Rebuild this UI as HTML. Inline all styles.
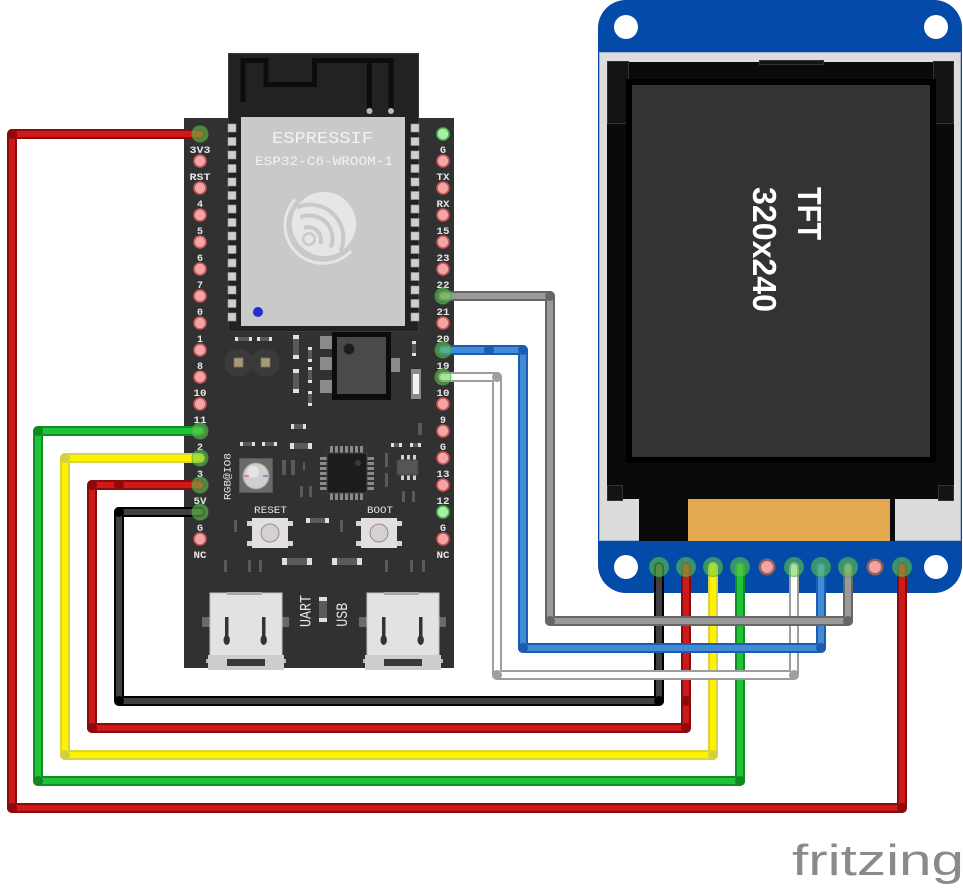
<!DOCTYPE html>
<html><head><meta charset="utf-8">
<style>html,body{margin:0;padding:0;background:#fff}svg{display:block}</style>
</head>
<body>
<svg xmlns="http://www.w3.org/2000/svg" width="963" height="890" viewBox="0 0 963 890">
<rect width="963" height="890" fill="#fff"/>

<!-- ================= TFT ================= -->
<rect x="598" y="0" width="364" height="593" rx="28" fill="#044aa9"/>
<circle cx="626" cy="27" r="12" fill="#fff"/>
<circle cx="936" cy="27" r="12" fill="#fff"/>
<circle cx="626" cy="567" r="12" fill="#fff"/>
<circle cx="936" cy="567" r="12" fill="#fff"/>
<rect x="599.5" y="52.5" width="361" height="488" fill="#dcdcdc" stroke="#9fb3d1" stroke-width="1"/>
<rect x="607" y="62" width="347" height="437" fill="#0a0a0a"/>
<rect x="607.5" y="61.5" width="21" height="62" fill="#141414" stroke="#333" stroke-width="1"/>
<rect x="933.5" y="61.5" width="20" height="62" fill="#141414" stroke="#333" stroke-width="1"/>
<rect x="759.5" y="60.5" width="64" height="4" fill="#141414" stroke="#333" stroke-width="1"/>
<rect x="607.5" y="485.5" width="15" height="15" fill="#141414" stroke="#333" stroke-width="1"/>
<rect x="938.5" y="485.5" width="15" height="15" fill="#141414" stroke="#333" stroke-width="1"/>
<rect x="626" y="79" width="310" height="384" fill="#000"/>
<rect x="632" y="85" width="298" height="372" fill="#333333"/>
<rect x="639" y="499" width="49" height="42" fill="#0a0a0a"/>
<rect x="688" y="499" width="202" height="42" fill="#e3a94f"/>
<rect x="890" y="499" width="5" height="42" fill="#0a0a0a"/>
<text transform="translate(798,213.5) rotate(90)" text-anchor="middle" font-family="Liberation Sans, sans-serif" font-weight="bold" font-size="33" fill="#fff" textLength="53" lengthAdjust="spacingAndGlyphs">TFT</text>
<text transform="translate(753,249.5) rotate(90)" text-anchor="middle" font-family="Liberation Sans, sans-serif" font-weight="bold" font-size="33" fill="#fff" textLength="125" lengthAdjust="spacingAndGlyphs">320x240</text>
<!-- TFT unconnected pins -->
<circle cx="767" cy="567" r="8.5" fill="#8d6262"/><circle cx="767" cy="567" r="6" fill="#f4a2a2"/>
<circle cx="875" cy="567" r="8.5" fill="#8d6262"/><circle cx="875" cy="567" r="6" fill="#f4a2a2"/>

<!-- ================= ESP32 board ================= -->
<rect x="184" y="118" width="270" height="550" fill="#313131"/>
<!-- module -->
<rect x="228.5" y="53.5" width="190" height="278" fill="#222" stroke="#3a3a3a" stroke-width="1"/>
<path d="M243,102 V60.5 H266 V84.5 H314.5 V60.5 H391 V110 M369.5,60.5 V110" fill="none" stroke="#0c0c0c" stroke-width="5"/>
<circle cx="369.5" cy="111" r="3" fill="#bbb"/>
<circle cx="391" cy="111" r="3" fill="#bbb"/>
<rect x="241" y="117" width="164" height="209" fill="#c9c9c9"/>
<g fill="#cfcfcf" stroke="#9a9a9a" stroke-width="0.6">
<rect x="228" y="124" width="8" height="8"/><rect x="228" y="137.5" width="8" height="8"/><rect x="228" y="151" width="8" height="8"/><rect x="228" y="164.5" width="8" height="8"/><rect x="228" y="178" width="8" height="8"/><rect x="228" y="191.5" width="8" height="8"/><rect x="228" y="205" width="8" height="8"/><rect x="228" y="218.5" width="8" height="8"/><rect x="228" y="232" width="8" height="8"/><rect x="228" y="245.5" width="8" height="8"/><rect x="228" y="259" width="8" height="8"/><rect x="228" y="272.5" width="8" height="8"/><rect x="228" y="286" width="8" height="8"/><rect x="228" y="299.5" width="8" height="8"/><rect x="228" y="313" width="8" height="8"/>
<rect x="411" y="124" width="8" height="8"/><rect x="411" y="137.5" width="8" height="8"/><rect x="411" y="151" width="8" height="8"/><rect x="411" y="164.5" width="8" height="8"/><rect x="411" y="178" width="8" height="8"/><rect x="411" y="191.5" width="8" height="8"/><rect x="411" y="205" width="8" height="8"/><rect x="411" y="218.5" width="8" height="8"/><rect x="411" y="232" width="8" height="8"/><rect x="411" y="245.5" width="8" height="8"/><rect x="411" y="259" width="8" height="8"/><rect x="411" y="272.5" width="8" height="8"/><rect x="411" y="286" width="8" height="8"/><rect x="411" y="299.5" width="8" height="8"/><rect x="411" y="313" width="8" height="8"/>
</g>
<text x="322.5" y="143" text-anchor="middle" font-family="Liberation Mono, monospace" font-size="17" fill="#f2f2f2" textLength="101" lengthAdjust="spacingAndGlyphs">ESPRESSIF</text>
<text x="324" y="165" text-anchor="middle" font-family="Liberation Mono, monospace" font-size="13" fill="#f2f2f2" textLength="138" lengthAdjust="spacingAndGlyphs">ESP32-C6-WROOM-1</text>
<!-- espressif logo -->
<g transform="translate(324,224)">
  <circle r="32" fill="#e6e6e6"/>
  <g fill="none" stroke="#c9c9c9" stroke-width="4">
    <path d="M-20.1,3.7 A13,13 0 0 1 -3.7,20.1"/>
    <path d="M-23.5,-6.7 A23,23 0 0 1 6.7,23.5"/>
    <path d="M-27,-16.5 A33,33 0 0 1 16.5,27"/>
  </g>
  <circle cx="-15" cy="15" r="7" fill="#c9c9c9"/>
  <circle cx="-15" cy="15" r="4.5" fill="#e6e6e6"/>
  <path d="M27,27 A38,38 0 0 1 -29,-24.5" fill="none" stroke="#e6e6e6" stroke-width="3"/>
</g>
<circle cx="258" cy="312" r="5" fill="#1f2fd0"/>

<!-- LED pads -->
<polygon points="232,349 245,349 252,356 252,369 245,376 232,376 225,369 225,356" fill="#3a3a3a"/>
<polygon points="259,349 272,349 279,356 279,369 272,376 259,376 252,369 252,356" fill="#3a3a3a"/>
<rect x="234" y="358" width="9" height="9" fill="#a79a78" stroke="#7a705a" stroke-width="0.8"/>
<rect x="261" y="358" width="9" height="9" fill="#a79a78" stroke="#7a705a" stroke-width="0.8"/>

<!-- regulator -->
<rect x="320" y="336" width="12" height="13" fill="#8a8a8a"/>
<rect x="320" y="357" width="12" height="13" fill="#8a8a8a"/>
<rect x="320" y="380" width="12" height="13" fill="#8a8a8a"/>
<rect x="391" y="358" width="9" height="14" fill="#8a8a8a"/>
<rect x="332" y="332" width="59" height="68" fill="#0c0c0c"/>
<rect x="337" y="337" width="49" height="57" fill="#4a4a4a"/>
<circle cx="349" cy="349" r="5.5" fill="#1e1e1e"/>
<rect x="411" y="369" width="10" height="30" fill="#888"/>
<rect x="413" y="374" width="6" height="20" fill="#f2f2f2"/>

<!-- small SMD parts: horizontal -->
<g fill="#5a5a5a">
<rect x="235" y="337" width="17" height="4"/><rect x="257" y="337" width="15" height="4"/>
<rect x="291" y="424" width="15" height="5"/>
<rect x="240" y="442" width="15" height="4"/><rect x="262" y="442" width="15" height="4"/>
<rect x="290" y="443" width="22" height="6"/>
<rect x="391" y="443" width="11" height="4"/><rect x="410" y="443" width="11" height="4"/>
<rect x="306" y="518" width="23" height="5"/>
<rect x="282" y="558" width="30" height="7"/><rect x="332" y="558" width="30" height="7"/>
</g>
<g fill="#e0e0e0">
<rect x="235" y="337" width="3" height="4"/><rect x="249" y="337" width="3" height="4"/>
<rect x="257" y="337" width="3" height="4"/><rect x="269" y="337" width="3" height="4"/>
<rect x="291" y="424" width="3" height="5"/><rect x="303" y="424" width="3" height="5"/>
<rect x="240" y="442" width="3" height="4"/><rect x="252" y="442" width="3" height="4"/>
<rect x="262" y="442" width="3" height="4"/><rect x="274" y="442" width="3" height="4"/>
<rect x="290" y="443" width="4" height="6"/><rect x="308" y="443" width="4" height="6"/>
<rect x="391" y="443" width="3" height="4"/><rect x="399" y="443" width="3" height="4"/>
<rect x="410" y="443" width="3" height="4"/><rect x="418" y="443" width="3" height="4"/>
<rect x="306" y="518" width="4" height="5"/><rect x="325" y="518" width="4" height="5"/>
<rect x="282" y="558" width="5" height="7"/><rect x="307" y="558" width="5" height="7"/>
<rect x="332" y="558" width="5" height="7"/><rect x="357" y="558" width="5" height="7"/>
</g>
<!-- vertical -->
<g fill="#5a5a5a">
<rect x="293" y="335" width="6" height="24"/><rect x="293" y="369" width="6" height="24"/>
<rect x="308" y="347" width="4" height="15"/><rect x="308" y="367" width="4" height="16"/><rect x="308" y="391" width="4" height="15"/>
<rect x="412" y="341" width="4" height="15"/>
<rect x="418" y="423" width="4" height="12"/>
<rect x="282" y="460" width="4" height="15"/><rect x="291" y="460" width="4" height="15"/>
<rect x="303" y="462" width="2" height="8"/>
<rect x="300" y="486" width="3" height="11"/><rect x="309" y="486" width="3" height="11"/>
<rect x="385" y="453" width="3" height="14"/><rect x="385" y="473" width="3" height="14"/>
<rect x="402" y="491" width="3" height="11"/><rect x="412" y="491" width="3" height="11"/>
<rect x="234" y="520" width="3" height="12"/><rect x="340" y="520" width="3" height="12"/>
<rect x="224" y="560" width="3" height="12"/><rect x="248" y="560" width="3" height="12"/><rect x="259" y="560" width="3" height="12"/>
<rect x="385" y="560" width="3" height="12"/><rect x="410" y="560" width="3" height="12"/><rect x="422" y="560" width="3" height="12"/>
<rect x="319" y="597" width="8" height="25"/>
</g>
<g fill="#e0e0e0">
<rect x="293" y="335" width="6" height="4"/><rect x="293" y="355" width="6" height="4"/>
<rect x="293" y="369" width="6" height="4"/><rect x="293" y="389" width="6" height="4"/>
<rect x="308" y="347" width="4" height="3"/><rect x="308" y="359" width="4" height="3"/>
<rect x="308" y="367" width="4" height="3"/><rect x="308" y="380" width="4" height="3"/>
<rect x="308" y="391" width="4" height="3"/><rect x="308" y="403" width="4" height="3"/>
<rect x="412" y="341" width="4" height="3"/><rect x="412" y="353" width="4" height="3"/>
<rect x="319" y="597" width="8" height="4"/><rect x="319" y="618" width="8" height="4"/>
</g>

<!-- RGB LED -->
<rect x="239.5" y="458.5" width="33" height="34" fill="#6a6a6a" stroke="#575757"/>
<circle cx="256" cy="476" r="13" fill="#cfcfcf" stroke="#9a9a9a" stroke-width="1"/>
<circle cx="253" cy="472" r="6" fill="#e4e4e4"/>
<line x1="244" y1="476" x2="249" y2="476" stroke="#d04040" stroke-width="1"/>
<line x1="263" y1="476" x2="268" y2="476" stroke="#3050d0" stroke-width="1"/>
<text transform="translate(230.5,476.5) rotate(-90)" text-anchor="middle" font-family="Liberation Mono, monospace" font-size="10" fill="#e6e6e6" textLength="47" lengthAdjust="spacingAndGlyphs">RGB@IO8</text>

<!-- QFN chip -->
<g fill="#8a8a8a">
<rect x="330" y="446" width="3" height="7"/><rect x="335" y="446" width="3" height="7"/><rect x="340" y="446" width="3" height="7"/><rect x="345" y="446" width="3" height="7"/><rect x="350" y="446" width="3" height="7"/><rect x="355" y="446" width="3" height="7"/><rect x="360" y="446" width="3" height="7"/>
<rect x="330" y="493" width="3" height="7"/><rect x="335" y="493" width="3" height="7"/><rect x="340" y="493" width="3" height="7"/><rect x="345" y="493" width="3" height="7"/><rect x="350" y="493" width="3" height="7"/><rect x="355" y="493" width="3" height="7"/><rect x="360" y="493" width="3" height="7"/>
<rect x="320" y="457" width="7" height="3"/><rect x="320" y="462" width="7" height="3"/><rect x="320" y="467" width="7" height="3"/><rect x="320" y="472" width="7" height="3"/><rect x="320" y="477" width="7" height="3"/><rect x="320" y="482" width="7" height="3"/><rect x="320" y="487" width="7" height="3"/>
<rect x="367" y="457" width="7" height="3"/><rect x="367" y="462" width="7" height="3"/><rect x="367" y="467" width="7" height="3"/><rect x="367" y="472" width="7" height="3"/><rect x="367" y="477" width="7" height="3"/><rect x="367" y="482" width="7" height="3"/><rect x="367" y="487" width="7" height="3"/>
</g>
<rect x="327" y="453" width="40" height="40" fill="#1c1c1c" stroke="#444" stroke-width="1"/>
<circle cx="358" cy="463" r="3" fill="#3a3a3a"/>

<!-- SOT chip -->
<g fill="#cfcfcf">
<rect x="401" y="455" width="3" height="5"/><rect x="407" y="455" width="3" height="5"/><rect x="413" y="455" width="3" height="5"/>
<rect x="401" y="475" width="3" height="5"/><rect x="407" y="475" width="3" height="5"/><rect x="413" y="475" width="3" height="5"/>
</g>
<rect x="397" y="460" width="21" height="15" fill="#555" stroke="#444"/>

<!-- buttons -->
<text x="270.5" y="513" text-anchor="middle" font-family="Liberation Mono, monospace" font-size="10" fill="#e6e6e6" textLength="33" lengthAdjust="spacingAndGlyphs">RESET</text>
<text x="380" y="513" text-anchor="middle" font-family="Liberation Mono, monospace" font-size="10" fill="#e6e6e6" textLength="26" lengthAdjust="spacingAndGlyphs">BOOT</text>
<g fill="#d6d6d6">
<rect x="247" y="521" width="6" height="5"/><rect x="287" y="521" width="6" height="5"/><rect x="247" y="541" width="6" height="5"/><rect x="287" y="541" width="6" height="5"/>
<rect x="356" y="521" width="6" height="5"/><rect x="396" y="521" width="6" height="5"/><rect x="356" y="541" width="6" height="5"/><rect x="396" y="541" width="6" height="5"/>
</g>
<rect x="252" y="518" width="36" height="30" fill="#e0e0e0"/>
<rect x="361" y="518" width="36" height="30" fill="#e0e0e0"/>
<circle cx="270" cy="533" r="9" fill="#d2d2d2" stroke="#a06a6a" stroke-width="0.8"/>
<circle cx="379" cy="533" r="9" fill="#d2d2d2" stroke="#a06a6a" stroke-width="0.8"/>

<!-- UART / USB -->
<text transform="translate(310.5,611) rotate(-90)" text-anchor="middle" font-family="Liberation Mono, monospace" font-size="16" fill="#e6e6e6" textLength="32" lengthAdjust="spacingAndGlyphs">UART</text>
<text transform="translate(347,614.7) rotate(-90)" text-anchor="middle" font-family="Liberation Mono, monospace" font-size="16" fill="#e6e6e6" textLength="24" lengthAdjust="spacingAndGlyphs">USB</text>

<!-- USB connectors -->
<g>
<rect x="202" y="617" width="8" height="10" fill="#6a6a6a"/>
<rect x="282" y="617" width="7" height="10" fill="#6a6a6a"/>
<rect x="206" y="659" width="5" height="4" fill="#bdbdbd"/>
<rect x="281" y="659" width="5" height="4" fill="#bdbdbd"/>
<rect x="210" y="593" width="72" height="63" fill="#e2e2e2" stroke="#c2c2c2" stroke-width="1"/>
<rect x="227" y="592" width="35" height="3" fill="#a8a8a8"/>
<rect x="225" y="617" width="3.5" height="26" fill="#333"/>
<ellipse cx="226.7" cy="640" rx="3.2" ry="5" fill="#333"/>
<rect x="262" y="617" width="3.5" height="26" fill="#333"/>
<ellipse cx="263.7" cy="640" rx="3.2" ry="5" fill="#333"/>
<rect x="208" y="655" width="76" height="15" fill="#cdcdcd"/>
<rect x="227" y="659" width="38" height="7" fill="#3a3a3a"/>
</g>
<g>
<rect x="359" y="617" width="8" height="10" fill="#6a6a6a"/>
<rect x="439" y="617" width="7" height="10" fill="#6a6a6a"/>
<rect x="363" y="659" width="5" height="4" fill="#bdbdbd"/>
<rect x="438" y="659" width="5" height="4" fill="#bdbdbd"/>
<rect x="367" y="593" width="72" height="63" fill="#e2e2e2" stroke="#c2c2c2" stroke-width="1"/>
<rect x="384" y="592" width="35" height="3" fill="#a8a8a8"/>
<rect x="382" y="617" width="3.5" height="26" fill="#333"/>
<ellipse cx="383.7" cy="640" rx="3.2" ry="5" fill="#333"/>
<rect x="419" y="617" width="3.5" height="26" fill="#333"/>
<ellipse cx="420.7" cy="640" rx="3.2" ry="5" fill="#333"/>
<rect x="365" y="655" width="76" height="15" fill="#cdcdcd"/>
<rect x="384" y="659" width="38" height="7" fill="#3a3a3a"/>
</g>

<!-- ESP pin labels -->
<g font-family="Liberation Mono, monospace" font-size="10" font-weight="bold" fill="#e6e6e6" text-anchor="middle">
<text x="200" y="153" textLength="21" lengthAdjust="spacingAndGlyphs">3V3</text>
<text x="200" y="180" textLength="21" lengthAdjust="spacingAndGlyphs">RST</text>
<text x="200" y="207">4</text><text x="200" y="234">5</text><text x="200" y="261">6</text>
<text x="200" y="288">7</text><text x="200" y="315">0</text><text x="200" y="342">1</text>
<text x="200" y="369">8</text>
<text x="200" y="396" textLength="13" lengthAdjust="spacingAndGlyphs">10</text>
<text x="200" y="423" textLength="13" lengthAdjust="spacingAndGlyphs">11</text>
<text x="200" y="450">2</text><text x="200" y="477">3</text>
<text x="200" y="504" textLength="13" lengthAdjust="spacingAndGlyphs">5V</text>
<text x="200" y="531">G</text>
<text x="200" y="558" textLength="13" lengthAdjust="spacingAndGlyphs">NC</text>
<text x="443" y="153">G</text>
<text x="443" y="180" textLength="13" lengthAdjust="spacingAndGlyphs">TX</text>
<text x="443" y="207" textLength="13" lengthAdjust="spacingAndGlyphs">RX</text>
<text x="443" y="234" textLength="13" lengthAdjust="spacingAndGlyphs">15</text>
<text x="443" y="261" textLength="13" lengthAdjust="spacingAndGlyphs">23</text>
<text x="443" y="288" textLength="13" lengthAdjust="spacingAndGlyphs">22</text>
<text x="443" y="315" textLength="13" lengthAdjust="spacingAndGlyphs">21</text>
<text x="443" y="342" textLength="13" lengthAdjust="spacingAndGlyphs">20</text>
<text x="443" y="369" textLength="13" lengthAdjust="spacingAndGlyphs">19</text>
<text x="443" y="396" textLength="13" lengthAdjust="spacingAndGlyphs">10</text>
<text x="443" y="423">9</text>
<text x="443" y="450">G</text>
<text x="443" y="477" textLength="13" lengthAdjust="spacingAndGlyphs">13</text>
<text x="443" y="504" textLength="13" lengthAdjust="spacingAndGlyphs">12</text>
<text x="443" y="531">G</text>
<text x="443" y="558" textLength="13" lengthAdjust="spacingAndGlyphs">NC</text>
</g>

<!-- ESP pins -->
<g fill="#f3a4a4" stroke="#c85555" stroke-width="1.6">
<circle cx="200" cy="161" r="6"/><circle cx="200" cy="188" r="6"/><circle cx="200" cy="215" r="6"/><circle cx="200" cy="242" r="6"/><circle cx="200" cy="269" r="6"/><circle cx="200" cy="296" r="6"/><circle cx="200" cy="323" r="6"/><circle cx="200" cy="350" r="6"/><circle cx="200" cy="377" r="6"/><circle cx="200" cy="404" r="6"/><circle cx="200" cy="539" r="6"/>
<circle cx="443" cy="161" r="6"/><circle cx="443" cy="188" r="6"/><circle cx="443" cy="215" r="6"/><circle cx="443" cy="242" r="6"/><circle cx="443" cy="269" r="6"/><circle cx="443" cy="323" r="6"/><circle cx="443" cy="404" r="6"/><circle cx="443" cy="431" r="6"/><circle cx="443" cy="458" r="6"/><circle cx="443" cy="485" r="6"/><circle cx="443" cy="539" r="6"/>
</g>
<g fill="#a6f0a6" stroke="#4fb64f" stroke-width="1.6">
<circle cx="443" cy="134" r="6"/><circle cx="443" cy="512" r="6"/>
</g>

<!-- ================= WIRES ================= -->
<g fill="none" stroke-linecap="round" stroke-linejoin="round">
  <path d="M200,512 H119 V701 H659 V567" stroke="#000" stroke-width="10"/>
  <path d="M200,512 H119 V701 H659 V567" stroke="#404040" stroke-width="6"/>
  <path d="M200,485 H92 V728 H686 V567" stroke="#8b0a0a" stroke-width="10"/>
  <path d="M200,485 H92 V728 H686 V567" stroke="#cc1a1a" stroke-width="6"/>
  <path d="M200,458 H65 V755 H713 V567" stroke="#d8d340" stroke-width="10"/>
  <path d="M200,458 H65 V755 H713 V567" stroke="#fff200" stroke-width="6"/>
  <path d="M200,431 H38 V781 H740 V567" stroke="#0f8f1f" stroke-width="10"/>
  <path d="M200,431 H38 V781 H740 V567" stroke="#22c13a" stroke-width="6"/>
  <path d="M200,134 H12 V808 H902 V567" stroke="#8b0a0a" stroke-width="10"/>
  <path d="M200,134 H12 V808 H902 V567" stroke="#cc1a1a" stroke-width="6"/>
  <path d="M443,377 H497 V675 H794 V567" stroke="#9e9e9e" stroke-width="10"/>
  <path d="M443,377 H497 V675 H794 V567" stroke="#fff" stroke-width="6"/>
  <path d="M443,350 H523 V648 H821 V567" stroke="#1c5cb0" stroke-width="10"/>
  <path d="M443,350 H523 V648 H821 V567" stroke="#418bd6" stroke-width="6"/>
  <path d="M443,296 H550 V621 H848 V567" stroke="#666" stroke-width="10"/>
  <path d="M443,296 H550 V621 H848 V567" stroke="#9a9a9a" stroke-width="6"/>
</g>
<!-- bendpoints -->
<g>
<circle cx="119" cy="512" r="5" fill="#000"/><circle cx="119" cy="701" r="5" fill="#000"/><circle cx="659" cy="701" r="5" fill="#000"/>
<circle cx="119" cy="485" r="5" fill="#8b0a0a"/><circle cx="92" cy="485" r="5" fill="#8b0a0a"/><circle cx="92" cy="728" r="5" fill="#8b0a0a"/><circle cx="686" cy="728" r="5" fill="#8b0a0a"/><circle cx="686" cy="701" r="5" fill="#8b0a0a"/>
<circle cx="65" cy="458" r="5" fill="#d6d040"/><circle cx="65" cy="755" r="5" fill="#d6d040"/><circle cx="713" cy="755" r="5" fill="#d6d040"/>
<circle cx="38" cy="431" r="5" fill="#0c8a1e"/><circle cx="38" cy="781" r="5" fill="#0c8a1e"/><circle cx="740" cy="781" r="5" fill="#0c8a1e"/>
<circle cx="12" cy="134" r="5" fill="#8b0a0a"/><circle cx="12" cy="808" r="5" fill="#8b0a0a"/><circle cx="902" cy="808" r="5" fill="#8b0a0a"/>
<circle cx="497" cy="377" r="5" fill="#9e9e9e"/><circle cx="497" cy="675" r="5" fill="#9e9e9e"/><circle cx="794" cy="675" r="5" fill="#9e9e9e"/>
<circle cx="489" cy="350" r="5" fill="#1c5cb0"/><circle cx="523" cy="350" r="5" fill="#1c5cb0"/><circle cx="523" cy="648" r="5" fill="#1c5cb0"/><circle cx="821" cy="648" r="5" fill="#1c5cb0"/>
<circle cx="550" cy="296" r="5" fill="#666"/><circle cx="550" cy="621" r="5" fill="#666"/><circle cx="848" cy="621" r="5" fill="#666"/>
</g>

<!-- connected pin halos -->
<g fill="rgba(100,205,80,0.55)" stroke="rgba(60,170,60,0.6)" stroke-width="1.2">
<circle cx="200" cy="134" r="8"/><circle cx="200" cy="431" r="8"/><circle cx="200" cy="458" r="8"/><circle cx="200" cy="485" r="8"/><circle cx="200" cy="512" r="8"/>
<circle cx="443" cy="296" r="8"/><circle cx="443" cy="350" r="8"/><circle cx="443" cy="377" r="8"/>
<circle cx="659" cy="567" r="9.5"/><circle cx="686" cy="567" r="9.5"/><circle cx="713" cy="567" r="9.5"/><circle cx="740" cy="567" r="9.5"/>
<circle cx="794" cy="567" r="9.5"/><circle cx="821" cy="567" r="9.5"/><circle cx="848" cy="567" r="9.5"/><circle cx="902" cy="567" r="9.5"/>
</g>

<!-- fritzing logo -->
<text x="792" y="875" font-family="Liberation Sans, sans-serif" font-size="44" fill="#8a8a8a" textLength="172" lengthAdjust="spacingAndGlyphs">fritzing</text>
</svg>
</body>
</html>
